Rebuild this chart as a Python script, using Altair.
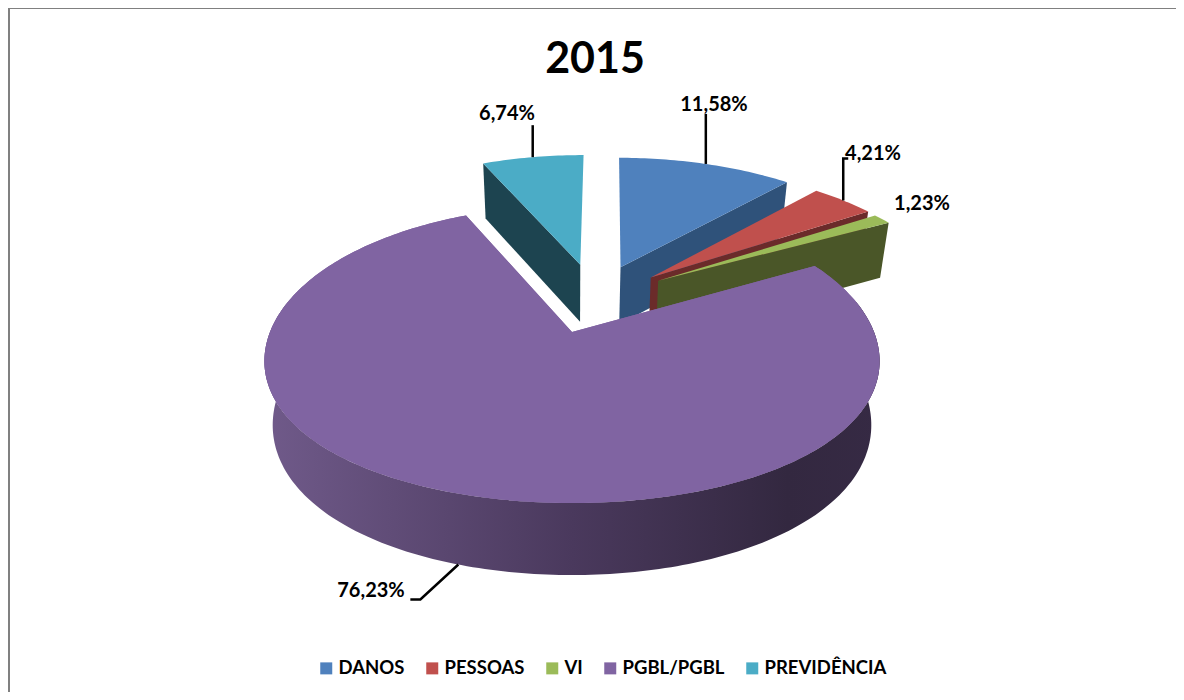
import math
import altair as alt
import pandas as pd

# ---- data
categories = ["DANOS", "PESSOAS", "VI", "PGBL/PGBL", "PREVIDÊNCIA"]
shares = [11.58, 4.21, 1.23, 76.23, 6.74]
labels = ["11,58%", "4,21%", "1,23%", "76,23%", "6,74%"]
title_text = "2015"

# ---- styles
top_colors = ["#4f81bd", "#c0504d", "#9bbb59", "#8064a2", "#4bacc6"]
wall_colors = ["#2f527a", "#6b2b2a", "#4a5628", "#3b2d4b", "#1d4450"]
FONT = "Lato"

# ---- 3D pie layout (page pixels); page margin is subtracted in project()
OX, OY = 8, 8
CX, CY = 572, 332          # hub of the un-exploded pie
RX, RY = 302, 150          # radii of the disc
K = 0.19                   # perspective strength, horizontal and far half
K_NEAR = 0.123             # perspective strength of the near half, vertical
SHRINK = 0.027             # the lower face is slightly narrower
hub_shift = [(0.175, 0.47), (0.28, 0.39), (0.305, 0.365), (0.0, 0.0), (0.03, 0.49)]
rim_shift = [(0.20, 0.47), (0.32, 0.40), (0.34, 0.365), (0.0, 0.0), (0.05, 0.49)]
rim_radius = [1.02, 1.0, 1.0, 1.0, 1.03]


def depth(v):
    return max(55.0, 62.0 - 10.0 * v)


def project(u, v, z=0.0):
    p = 1.0 / (1.0 + K * v)
    py = p if v >= 0 else 1.0 / (1.0 + K_NEAR * v)
    return (CX + RX * u * p * (1 - SHRINK * z) - OX,
            CY - RY * v * py + depth(v) * z - OY)


def rim(i, deg, z=0.0):
    a = math.radians(deg)
    eu, ev = rim_shift[i]
    r = rim_radius[i]
    return project(eu + r * math.sin(a), ev + r * math.cos(a), z)


def sweep(a, b, step=1.0):
    n = max(2, int(abs(b - a) / step))
    return [a + (b - a) * k / n for k in range(n + 1)]


def feature(name, ring, fill):
    ring = [list(pt) for pt in ring] + [list(ring[0])]
    return {"type": "Feature",
            "properties": {"name": name, "fill": fill},
            "geometry": {"type": "Polygon", "coordinates": [ring]}}


starts, ends, acc = [], [], 0.0
for s in shares:
    starts.append(acc * 3.6)
    acc += s
    ends.append(acc * 3.6)

hub = [project(*e) for e in hub_shift]
hub_low = [project(e[0], e[1], 1) for e in hub_shift]

# top faces, back to front
draw_order = [4, 0, 1, 2]
tops = [feature(categories[i],
                [hub[i]] + [rim(i, d) for d in sweep(starts[i], ends[i])],
                top_colors[i]) for i in draw_order]

# cut faces seen from the front
walls = []
for i in draw_order:
    edge = starts[i] if i == 4 else ends[i]
    walls.append(feature(categories[i] + " parede",
                         [hub[i], rim(i, edge), rim(i, edge, 1), hub_low[i]],
                         wall_colors[i]))

# front rim of the large slice
rng = sweep(78, 282)
front = [rim(3, d) for d in rng] + [rim(3, d, 1) for d in reversed(rng)]
front_feat = feature("PGBL/PGBL parede", front, wall_colors[3])

big_top = feature(categories[3],
                  [hub[3]] + [rim(3, d) for d in sweep(starts[3], ends[3])],
                  top_colors[3])

# ---- leaders and labels
mid = [(a + b) / 2 for a, b in zip(starts, ends)]
anchors = [rim(0, mid[0]), rim(1, mid[1]), None, rim(3, mid[3], 1), rim(4, mid[4])]
elbows = [[(0, 0), (0, -50)], [(0, 0), (0, -42), (5, -42)], None,
          [(0, 0), (-38, 35), (-48, 35)], [(0, 0), (0, -32)]]
leader_rows = []
for i, (a, e) in enumerate(zip(anchors, elbows)):
    if a is None:
        continue
    for k, (dx, dy) in enumerate(e):
        leader_rows.append({"g": categories[i], "k": k, "px": a[0] + dx, "py": a[1] + dy})
leaders = pd.DataFrame(leader_rows)

label_place = [(714, 105), (873, 154), (922, 204), (371, 591), (507, 114)]
label_df = pd.DataFrame({"t": labels,
                         "px": [p[0] - OX for p in label_place],
                         "py": [p[1] - OY for p in label_place]})
title_df = pd.DataFrame({"t": [title_text], "px": [595 - OX], "py": [60 - OY]})

# ---- layers
proj = alt.Projection(type="identity", scale=1, translate=[0, 0])

wall_layer = alt.Chart(alt.Data(values=walls)).mark_geoshape(strokeWidth=0).encode(
    fill=alt.Color("properties.fill:N", scale=None, legend=None)
).project(**proj.to_dict())

top_scale = alt.Scale(domain=categories, range=top_colors)
legend = alt.Legend(
    title=None, orient="none", direction="horizontal", columns=5,
    legendX=317 - OX, legendY=659 - OY, padding=0,
    symbolType="square", symbolSize=144, symbolStrokeWidth=0,
    labelFont=FONT, labelFontWeight="bold", labelFontSize=18.5, labelColor="#000000",
    labelOffset=3, columnPadding=18, labelLimit=300,
)
top_layer = alt.Chart(alt.Data(values=tops + [big_top])).mark_geoshape(strokeWidth=0).encode(
    fill=alt.Color("properties.name:N", scale=top_scale, legend=legend)
).project(**proj.to_dict())

gradient = alt.LinearGradient(
    gradient="linear", x1=0, x2=1, y1=0, y2=0,
    stops=[alt.GradientStop(offset=0.0, color="#705a8a"),
           alt.GradientStop(offset=0.5, color="#4a395d"),
           alt.GradientStop(offset=0.85, color="#332840"),
           alt.GradientStop(offset=1.0, color="#362a44")],
)
front_layer = alt.Chart(alt.Data(values=[front_feat])).mark_geoshape(
    fill=gradient, strokeWidth=0
).project(**proj.to_dict())

leader_layer = alt.Chart(leaders).mark_line(color="#000000", strokeWidth=2.5).encode(
    x=alt.X("px:Q", scale=None, axis=None),
    y=alt.Y("py:Q", scale=None, axis=None),
    detail="g:N",
    order="k:Q",
)
label_layer = alt.Chart(label_df).mark_text(
    font=FONT, fontWeight="bold", fontSize=20, color="#000000", align="center", baseline="middle"
).encode(x=alt.X("px:Q", scale=None, axis=None), y=alt.Y("py:Q", scale=None, axis=None), text="t:N")
title_layer = alt.Chart(title_df).mark_text(
    font=FONT, fontWeight="bold", fontSize=43, color="#000000", align="center", baseline="middle"
).encode(x=alt.X("px:Q", scale=None, axis=None), y=alt.Y("py:Q", scale=None, axis=None), text="t:N")

frame_left = alt.Chart(pd.DataFrame({"a": [0]})).mark_rule(color="#808080", strokeWidth=2).encode(
    x=alt.value(1), y=alt.value(0), y2=alt.value(684))
frame_top = alt.Chart(pd.DataFrame({"a": [0]})).mark_rule(color="#808080", strokeWidth=1).encode(
    y=alt.value(0.5), x=alt.value(0), x2=alt.value(1168))

chart = alt.layer(
    frame_left, frame_top, wall_layer, top_layer, front_layer,
    alt.Chart(alt.Data(values=[big_top])).mark_geoshape(strokeWidth=0, fill=top_colors[3]).project(**proj.to_dict()),
    leader_layer, label_layer, title_layer,
).resolve_scale(fill="independent").properties(
    width=1168, height=684, padding=0, autosize="none"
).configure_view(stroke=None)

chart.save("out.html", embed_options={"renderer": "svg", "actions": False})
